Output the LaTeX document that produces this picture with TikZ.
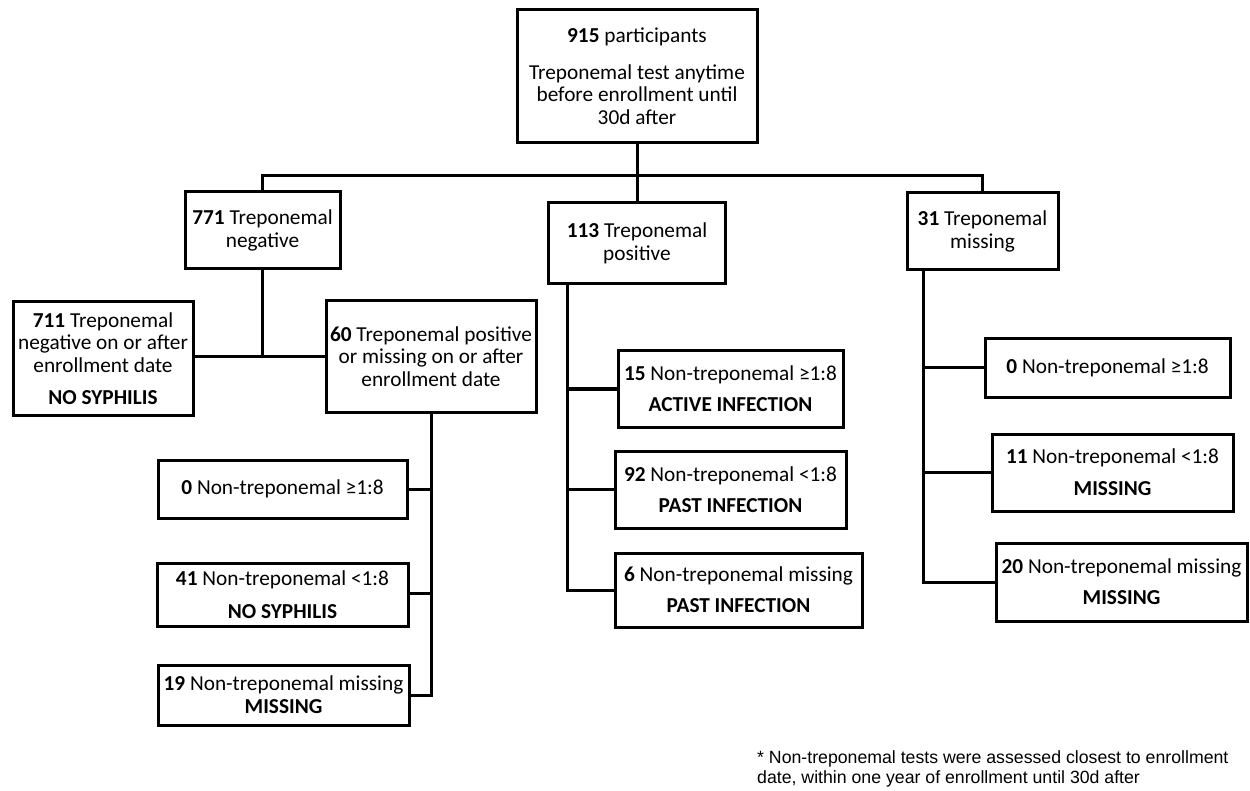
\documentclass[tikz,border=0pt]{standalone}
\usepackage{fontspec}
\setmainfont{Carlito}
\newfontfamily\arialfont{Liberation Sans}
\begin{document}
\begin{tikzpicture}[x=1pt,y=-1pt,
  box/.style={draw, line width=3pt, align=center, inner sep=0pt, outer sep=0pt,
    font=\fontsize{21.3}{22.7}\selectfont},
  conn/.style={line width=3pt},
  note/.style={align=left, inner sep=0pt, anchor=north west,
    font=\arialfont\fontsize{17.7}{20}\selectfont}]
\useasboundingbox (0,0) rectangle (1250,791);
% level 0
\node[box, minimum width=240pt, minimum height=133pt] (top) at (637,76.5)
  {\textbf{915} participants\\[13.5pt]Treponemal test anytime\\before enrollment until\\30d after};
% level 1
\node[box, minimum width=155pt, minimum height=77pt] (n771) at (262.5,230.5)
  {\textbf{771} Treponemal\\negative};
\node[box, minimum width=177pt, minimum height=81pt] (n113) at (637,243.5)
  {\textbf{113} Treponemal\\positive};
\node[box, minimum width=151pt, minimum height=77pt] (n31) at (982.5,231.5)
  {\textbf{31} Treponemal\\missing};
% level 2 left
\node[box, minimum width=180pt, minimum height=113pt] (n711) at (103,358.5)
  {\textbf{711} Treponemal\\negative on or after\\enrollment date\\[9.5pt]\textbf{NO SYPHILIS}};
\node[box, minimum width=210pt, minimum height=111pt] (n60) at (431,356.5)
  {\textbf{60} Treponemal positive\\or missing on or after\\enrollment date};
% under 60
\node[box, minimum width=249pt, minimum height=58pt] (n0a) at (282.5,489)
  {\textbf{0} Non-treponemal ≥1:8};
\node[box, minimum width=251pt, minimum height=63pt] (n41) at (282.5,594.5)
  {\textbf{41} Non-treponemal <1:8\\[10pt]\textbf{NO SYPHILIS}};
\node[box, minimum width=251pt, minimum height=60pt] (n19) at (283.5,695)
  {\textbf{19} Non-treponemal missing\\\textbf{MISSING}};
% under 113
\node[box, minimum width=225pt, minimum height=76pt] (n15) at (730.5,389)
  {\textbf{15} Non-treponemal ≥1:8\\[8.5pt]\textbf{ACTIVE INFECTION}};
\node[box, minimum width=231pt, minimum height=77pt] (n92) at (730.5,489.5)
  {\textbf{92} Non-treponemal <1:8\\[8.5pt]\textbf{PAST INFECTION}};
\node[box, minimum width=247pt, minimum height=74pt] (n6) at (738.5,590)
  {\textbf{6} Non-treponemal missing\\[8.5pt]\textbf{PAST INFECTION}};
% under 31
\node[box, minimum width=245pt, minimum height=58pt] (n0b) at (1107.5,368)
  {\textbf{0} Non-treponemal ≥1:8};
\node[box, minimum width=241pt, minimum height=77pt] (n11) at (1112.5,472.5)
  {\textbf{11} Non-treponemal <1:8\\[9pt]\textbf{MISSING}};
\node[box, minimum width=251pt, minimum height=78pt] (n20) at (1121.5,582)
  {\textbf{20} Non-treponemal missing\\[8.5pt]\textbf{MISSING}};
% footnote
\node[note] (fn) at (757,750)
  {* Non-treponemal tests were assessed closest to enrollment\\date, within one year of enrollment until 30d after};
% connectors
\coordinate (bus) at (637,176);
\draw[conn] (top.south) -- (n113.north);
\draw[conn] (n771.north) |- (bus) -| (n31.north);
% 771 split
\coordinate (j771) at (262.5,357);
\draw[conn] (n771.south) -- (j771);
\draw[conn] (n711.east |- j771) -- (n60.west |- j771);
% 60 children
\draw[conn] (n60.south) |- (n19.east);
\draw[conn] (n0a.east) -- (n0a.east -| n60.south);
\draw[conn] (n41.east |- 0,593) -- (n60.south |- 0,593);
% 113 children
\coordinate (t113) at (567,284);
\draw[conn] (t113) |- (n6.west);
\draw[conn] (t113 |- n15.west) -- (n15.west);
\draw[conn] (t113 |- n92.west) -- (n92.west);
% 31 children
\coordinate (t31) at (923,270);
\draw[conn] (t31) |- (n20.west);
\draw[conn] (t31 |- n0b.west) -- (n0b.west);
\draw[conn] (t31 |- n11.west) -- (n11.west);
\end{tikzpicture}
\end{document}
